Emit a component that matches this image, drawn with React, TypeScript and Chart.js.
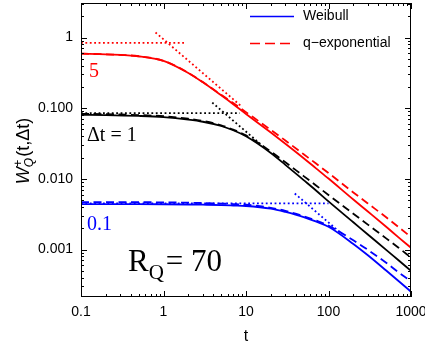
import React, { useEffect, useRef } from "react";
import { Chart, registerables } from "chart.js";

Chart.register(...registerables);

// Time lags t at which the survival curves are sampled
const tValues = [0.1, 0.2, 0.5, 1, 2, 3, 5, 7, 10, 20, 30, 50, 70, 100, 200, 300, 500, 700, 1000];

// Δt = 5
const weibullDt5 = [0.59, 0.578, 0.543, 0.468, 0.315, 0.232, 0.152, 0.114, 0.083, 0.0452, 0.0314, 0.0196, 0.0142, 0.0101, 0.0051, 0.00345, 0.0021, 0.0015, 0.00106];
const qexpDt5 = [0.59, 0.578, 0.543, 0.468, 0.317, 0.234, 0.155, 0.1185, 0.088, 0.0493, 0.0349, 0.0223, 0.0166, 0.0121, 0.00643, 0.00449, 0.00286, 0.0021, 0.0015];

// Δt = 1
const weibullDt1 = [0.0807, 0.08, 0.0778, 0.0748, 0.0689, 0.0643, 0.056, 0.0487, 0.04, 0.0232, 0.0158, 0.0096, 0.0069, 0.0048, 0.00243, 0.00163, 0.00099, 0.00071, 0.0005];
const qexpDt1 = [0.083, 0.0824, 0.08, 0.077, 0.071, 0.066, 0.0572, 0.0497, 0.0412, 0.0244, 0.0172, 0.01094, 0.00814, 0.0059, 0.00321, 0.00225, 0.00144, 0.00107, 0.00077];

// Δt = 0.1
const weibullDt01 = [0.0044, 0.0044, 0.00439, 0.00437, 0.00434, 0.00431, 0.00426, 0.0042, 0.00413, 0.00378, 0.0034, 0.00288, 0.0025, 0.0021, 0.0012, 0.00083, 0.000505, 0.000362, 0.000253];
const qexpDt01 = [0.0047, 0.0047, 0.00468, 0.00465, 0.0046, 0.00455, 0.00447, 0.0044, 0.0043, 0.0039, 0.00352, 0.00296, 0.00258, 0.00218, 0.00135, 0.00099, 0.00065, 0.00048, 0.000357];

// Short-time plateaus and long-time power-law asymptotes
const plateauT5 = [0.1, 1.9];
const plateauY5 = [0.84, 0.84];
const powerT5 = [0.8, 9];
const powerY5 = [1.18, 0.104];

const plateauT1 = [0.1, 8.4];
const plateauY1 = [0.085, 0.085];
const powerT1 = [3.9, 15];
const powerY1 = [0.12, 0.031];

const plateauT01 = [0.1, 100];
const plateauY01 = [0.0045, 0.0045];
const powerT01 = [39, 138];
const powerY01 = [0.0062, 0.00175];

// Axis ticks
const xTicks = [0.1, 1, 10, 100, 1000];
const xTickLabels = ["0.1", "1", "10", "100", "1000"];
const yTicks = [0.001, 0.01, 0.1, 1];
const yTickLabels = ["0.001", "0.010", "0.100", "1"];

const X_MIN = 0.1;
const X_MAX = 1000;
const Y_MIN = 0.000213;
const Y_MAX = 3.08;

const RED = "#ff0000";
const BLUE = "#0000ff";
const BLACK = "#000000";

const SANS = "'Liberation Sans', Arial, sans-serif";
const SERIF = "'Liberation Serif', 'Times New Roman', serif";

const toPoints = (ts: number[], ys: number[]) => ts.map((t, i) => ({ x: t, y: ys[i] }));

const labelFor = (ticks: number[], labels: string[], v: number) => {
  const i = ticks.findIndex((t) => Math.abs(Math.log10(t) - Math.log10(v)) < 1e-6);
  return i >= 0 ? labels[i] : "";
};

const curve = (data: number[], color: string, dashed: boolean) => ({
  data: toPoints(tValues, data),
  borderColor: color,
  borderWidth: 1.8,
  borderDash: dashed ? [8, 4.5] : [],
  pointRadius: 0,
  cubicInterpolationMode: "monotone" as const,
  fill: false,
});

const asymptote = (ts: number[], ys: number[], color: string) => ({
  data: toPoints(ts, ys),
  borderColor: color,
  borderWidth: 1.8,
  borderDash: [1.8, 2.6],
  borderCapStyle: "butt" as const,
  pointRadius: 0,
  fill: false,
});

function minorValues(min: number, max: number) {
  const out: { v: number; major: boolean }[] = [];
  for (let e = -5; e <= 4; e++) {
    for (let k = 1; k <= 9; k++) {
      const v = k * Math.pow(10, e);
      if (v >= min * 0.9999 && v <= max * 1.0001) out.push({ v, major: k === 1 });
    }
  }
  return out;
}

const framePlugin = {
  id: "frameAndNotes",
  afterDraw(chart: any) {
    const { ctx, chartArea, scales } = chart;
    const { left, right, top, bottom } = chartArea;
    const xs = scales.x;
    const ys = scales.y;
    ctx.save();

    // frame
    ctx.strokeStyle = BLACK;
    ctx.lineWidth = 1;
    ctx.strokeRect(left + 0.5, top + 0.5, right - left - 1, bottom - top - 1);

    // inward ticks on all four sides
    ctx.beginPath();
    for (const { v, major } of minorValues(X_MIN, X_MAX)) {
      const px = Math.round(xs.getPixelForValue(v)) + 0.5;
      const len = major ? 6 : 3;
      ctx.moveTo(px, bottom);
      ctx.lineTo(px, bottom - len);
      ctx.moveTo(px, top);
      ctx.lineTo(px, top + len);
    }
    for (const { v, major } of minorValues(Y_MIN, Y_MAX)) {
      const py = Math.round(ys.getPixelForValue(v)) + 0.5;
      const len = major ? 6 : 3;
      ctx.moveTo(left, py);
      ctx.lineTo(left + len, py);
      ctx.moveTo(right, py);
      ctx.lineTo(right - len, py);
    }
    ctx.stroke();

    // legend
    ctx.lineWidth = 1.6;
    ctx.strokeStyle = BLUE;
    ctx.setLineDash([]);
    ctx.beginPath();
    ctx.moveTo(250, 16.5);
    ctx.lineTo(294, 16.5);
    ctx.stroke();
    ctx.strokeStyle = RED;
    ctx.setLineDash([10, 5]);
    ctx.beginPath();
    ctx.moveTo(250, 43.5);
    ctx.lineTo(294, 43.5);
    ctx.stroke();
    ctx.setLineDash([]);
    ctx.fillStyle = BLACK;
    ctx.font = `14px ${SANS}`;
    ctx.textBaseline = "middle";
    ctx.textAlign = "left";
    ctx.fillText("Weibull", 303, 16);
    ctx.fillText("q\u2212exponential", 303, 43);

    // curve labels
    ctx.textBaseline = "alphabetic";
    ctx.font = `20px ${SERIF}`;
    ctx.fillStyle = RED;
    ctx.fillText("5", 89, 77);
    ctx.fillStyle = BLACK;
    ctx.fillText("\u0394t = 1", 87, 141);
    ctx.fillStyle = BLUE;
    ctx.fillText("0.1", 87, 230);

    // R_Q = 70
    ctx.fillStyle = BLACK;
    ctx.font = `31px ${SERIF}`;
    ctx.fillText("R", 128, 271);
    const rW = ctx.measureText("R").width;
    ctx.font = `21px ${SERIF}`;
    ctx.fillText("Q", 128 + rW, 279);
    const qW = ctx.measureText("Q").width;
    ctx.font = `31px ${SERIF}`;
    ctx.fillText("= 70", 128 + rW + qW + 2, 271);

    // axis titles
    ctx.font = `16px ${SANS}`;
    ctx.textAlign = "center";
    ctx.fillText("t", (left + right) / 2, 341);

    ctx.translate(29, 151);
    ctx.rotate(-Math.PI / 2);
    ctx.textAlign = "left";
    const big = `18px ${SANS}`;
    const small = `12px ${SANS}`;
    ctx.font = `italic ${big}`;
    const wW = ctx.measureText("W").width;
    ctx.font = small;
    const supW = ctx.measureText("+").width;
    ctx.font = `italic ${small}`;
    const subW = ctx.measureText("Q").width;
    const scriptW = Math.max(supW, subW) + 1;
    ctx.font = big;
    const restW = ctx.measureText("(t,\u0394t)").width;
    const total = wW + scriptW + restW;
    let x = -total / 2;
    ctx.font = `italic ${big}`;
    ctx.fillText("W", x, 0);
    x += wW;
    ctx.font = small;
    ctx.fillText("+", x + 0.5, -7);
    ctx.font = `italic ${small}`;
    ctx.fillText("Q", x, 4);
    x += scriptW;
    ctx.font = big;
    ctx.fillText("(t,\u0394t)", x, 0);

    ctx.restore();
  },
};

export default function App() {
  const canvasRef = useRef<HTMLCanvasElement | null>(null);

  useEffect(() => {
    const canvas = canvasRef.current;
    if (!canvas) return;
    const chart = new Chart(canvas, {
      type: "line",
      data: {
        datasets: [
          asymptote(plateauT5, plateauY5, RED),
          asymptote(powerT5, powerY5, RED),
          asymptote(plateauT1, plateauY1, BLACK),
          asymptote(powerT1, powerY1, BLACK),
          asymptote(plateauT01, plateauY01, BLUE),
          asymptote(powerT01, powerY01, BLUE),
          curve(qexpDt5, RED, true),
          curve(weibullDt5, RED, false),
          curve(qexpDt1, BLACK, true),
          curve(weibullDt1, BLACK, false),
          curve(qexpDt01, BLUE, true),
          curve(weibullDt01, BLUE, false),
        ] as any,
      },
      options: {
        animation: false,
        responsive: false,
        devicePixelRatio: 1,
        layout: { padding: { top: 3, right: 14, left: 0, bottom: 0 } },
        plugins: { legend: { display: false }, tooltip: { enabled: false } },
        scales: {
          x: {
            type: "logarithmic",
            min: X_MIN,
            max: X_MAX,
            grid: { display: false, drawTicks: false },
            border: { display: false },
            afterBuildTicks: (s: any) => {
              s.ticks = xTicks.map((v) => ({ value: v }));
            },
            afterFit: (s: any) => {
              s.height = 51;
              s.paddingLeft = 0;
              s.paddingRight = 0;
            },
            ticks: {
              autoSkip: false,
              maxRotation: 0,
              padding: 7,
              color: BLACK,
              font: { family: SANS, size: 14 },
              callback: (v: any) => labelFor(xTicks, xTickLabels, Number(v)),
            },
          },
          y: {
            type: "logarithmic",
            min: Y_MIN,
            max: Y_MAX,
            grid: { display: false, drawTicks: false },
            border: { display: false },
            afterBuildTicks: (s: any) => {
              s.ticks = yTicks.map((v) => ({ value: v }));
            },
            afterFit: (s: any) => {
              s.width = 81;
              s.paddingTop = 0;
              s.paddingBottom = 0;
            },
            ticks: {
              autoSkip: false,
              padding: 8,
              color: BLACK,
              font: { family: SANS, size: 14 },
              callback: (v: any) => labelFor(yTicks, yTickLabels, Number(v)),
            },
          },
        },
      } as any,
      plugins: [framePlugin],
    });
    return () => chart.destroy();
  }, []);

  return (
    <div style={{ position: "absolute", left: 0, top: 0, width: 425, height: 348, background: "#fff" }}>
      <canvas ref={canvasRef} width={425} height={348} style={{ display: "block" }} />
    </div>
  );
}
